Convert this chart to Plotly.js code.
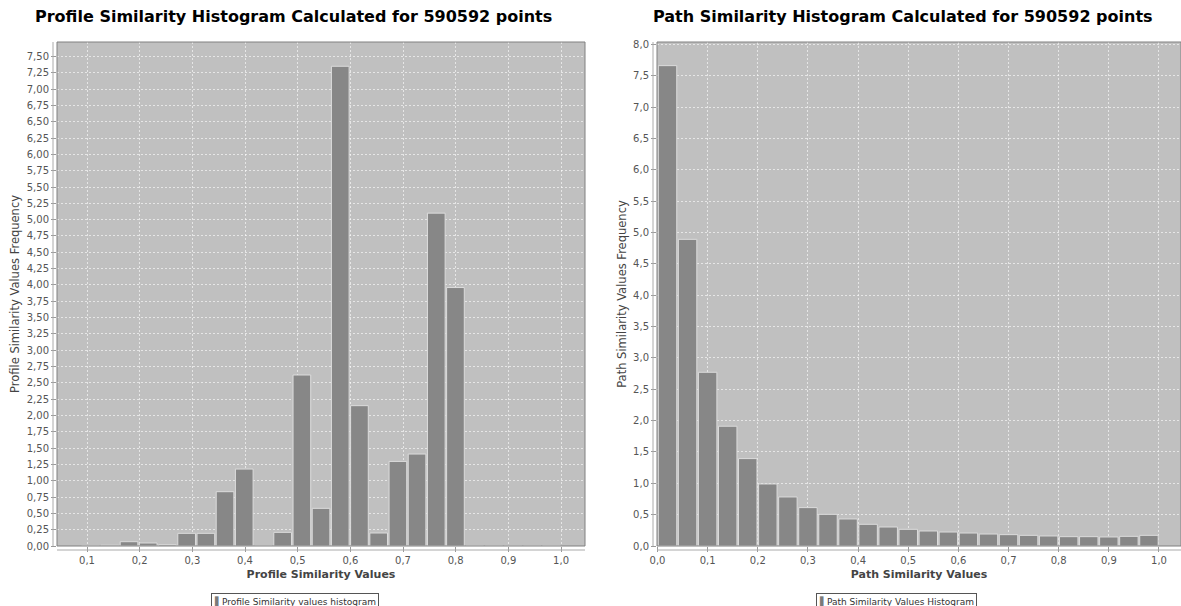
<!DOCTYPE html>
<html>
<head>
<meta charset="utf-8">
<script src="https://cdn.plot.ly/plotly-3.0.1.min.js"></script>
<style>
  html, body { margin: 0; padding: 0; background: #ffffff; }
  #chart { width: 1181px; height: 606px; }
</style>
</head>
<body>
<div id="chart"></div>
<script>
// ---- Data ----
const leftTitle = "Profile Similarity Histogram Calculated for 590592 points";
const leftXTitle = "Profile Similarity Values";
const leftYTitle = "Profile Similarity Values Frequency";
const leftLegend = "Profile Similarity values histogram";
const leftBinStart = [0.0886, 0.1251, 0.1615, 0.1980, 0.2344, 0.2709, 0.3074, 0.3438, 0.3803, 0.4167,
                      0.4532, 0.4897, 0.5261, 0.5626, 0.5990, 0.6355, 0.6720, 0.7084, 0.7449, 0.7813,
                      0.8178, 0.8543, 0.8907, 0.9272, 0.9636];
const leftBinWidth = 0.03646;
const leftFreq = [0.002, 0.012, 0.066, 0.046, 0.020, 0.194, 0.194, 0.832, 1.179, 0.000,
                  0.209, 2.620, 0.577, 7.350, 2.150, 0.199, 1.296, 1.409, 5.100, 3.960,
                  0.000, 0.000, 0.003, 0.000, 0.008];

const rightTitle = "Path Similarity Histogram Calculated for 590592 points";
const rightXTitle = "Path Similarity Values";
const rightYTitle = "Path Similarity Values Frequency";
const rightLegend = "Path Similarity Values Histogram";
const rightBinStart = [0.00, 0.04, 0.08, 0.12, 0.16, 0.20, 0.24, 0.28, 0.32, 0.36,
                       0.40, 0.44, 0.48, 0.52, 0.56, 0.60, 0.64, 0.68, 0.72, 0.76,
                       0.80, 0.84, 0.88, 0.92, 0.96];
const rightBinWidth = 0.04;
const rightFreq = [7.660, 4.890, 2.770, 1.910, 1.394, 0.989, 0.782, 0.612, 0.505, 0.431,
                   0.346, 0.303, 0.266, 0.239, 0.223, 0.207, 0.191, 0.181, 0.170, 0.160,
                   0.149, 0.149, 0.144, 0.154, 0.170];

// ---- Styling ----
const W = 1181, H = 606;
const barColor = '#878787';
const barEdge = '#dcdcdc';
const tickFont = { family: 'DejaVu Sans, sans-serif', size: 10, color: '#555555' };
const xTitleFont = { family: 'DejaVu Sans, sans-serif', size: 11, color: '#444444', weight: 'bold' };
const yTitleFont = { family: 'DejaVu Sans, sans-serif', size: 11.5, color: '#444444' };
const titleFont = { family: 'DejaVu Sans, sans-serif', size: 16, color: '#000000', weight: 'bold' };
const legendFont = { family: 'DejaVu Sans, sans-serif', size: 9, color: '#333333' };

function barTrace(starts, w, vals, xa, ya) {
  return {
    type: 'bar',
    x: starts,
    y: vals,
    width: starts.map(() => w * 0.92),
    offset: starts.map(() => w * 0.04),
    xaxis: xa, yaxis: ya,
    marker: { color: barColor, line: { color: barEdge, width: 1 } },
    showlegend: false,
    hoverinfo: 'x+y'
  };
}

const data = [
  barTrace(leftBinStart, leftBinWidth, leftFreq, 'x', 'y'),
  barTrace(rightBinStart, rightBinWidth, rightFreq, 'x2', 'y2')
];

const gridCommon = {
  showgrid: true,
  gridcolor: 'rgba(255,255,255,0.6)',
  griddash: '2px,2px',
  gridwidth: 1,
  zeroline: false,
  showline: false,
  ticks: 'outside',
  ticklen: 5,
  tickcolor: '#999999',
  tickfont: tickFont,
  fixedrange: true
};

const lDom = [57 / W, 585 / W];
const rDom = [657 / W, 1];

const layout = {
  width: W, height: H,
  margin: { l: 0, r: 0, t: 42, b: 60, pad: 0 },
  paper_bgcolor: '#ffffff',
  plot_bgcolor: '#c0c0c0',
  separators: ',.',
  bargap: 0,
  showlegend: false,
  xaxis: Object.assign({}, gridCommon, {
    domain: lDom, anchor: 'y',
    range: [0.0430, 1.0455], tick0: 0, dtick: 0.1, tickformat: '.1f',
    title: { text: leftXTitle, font: xTitleFont, standoff: 5 }
  }),
  yaxis: Object.assign({}, gridCommon, {
    domain: [0, 1], anchor: 'x',
    range: [0, 7.722], tick0: 0, dtick: 0.25, tickformat: '.2f',
    title: { text: leftYTitle, font: yTitleFont, standoff: 4 }
  }),
  xaxis2: Object.assign({}, gridCommon, {
    domain: rDom, anchor: 'y2',
    range: [-0.001, 1.0439], tick0: 0, dtick: 0.1, tickformat: '.1f',
    title: { text: rightXTitle, font: xTitleFont, standoff: 5 }
  }),
  yaxis2: Object.assign({}, gridCommon, {
    domain: [0, 1], anchor: 'x2',
    range: [0, 8.037], tick0: 0, dtick: 0.5, tickformat: '.1f',
    title: { text: rightYTitle, font: yTitleFont, standoff: 4 }
  }),
  shapes: [
    // plot outlines
    { type: 'rect', xref: 'x domain', yref: 'y domain', x0: 0, x1: 1, y0: 0, y1: 1,
      line: { color: '#808080', width: 1 }, layer: 'above' },
    { type: 'rect', xref: 'x2 domain', yref: 'y2 domain', x0: 0, x1: 1, y0: 0, y1: 1,
      line: { color: '#808080', width: 1 }, layer: 'above' },
    // offset axis lines (left chart)
    { type: 'line', xref: 'x domain', yref: 'y domain', x0: -4 / 528, x1: -4 / 528, y0: 0, y1: 1,
      line: { color: '#aaaaaa', width: 1 } },
    { type: 'line', xref: 'x domain', yref: 'y domain', x0: 0, x1: 1, y0: -4 / 504, y1: -4 / 504,
      line: { color: '#aaaaaa', width: 1 } },
    // offset axis lines (right chart)
    { type: 'line', xref: 'x2 domain', yref: 'y2 domain', x0: -4 / 524, x1: -4 / 524, y0: 0, y1: 1,
      line: { color: '#aaaaaa', width: 1 } },
    { type: 'line', xref: 'x2 domain', yref: 'y2 domain', x0: 0, x1: 1, y0: -4 / 504, y1: -4 / 504,
      line: { color: '#aaaaaa', width: 1 } }
  ],
  annotations: [
    { text: leftTitle, xref: 'paper', yref: 'paper', x: 293 / W, y: 1 + (42 - 17) / 504,
      xanchor: 'center', yanchor: 'middle', showarrow: false, font: titleFont },
    { text: rightTitle, xref: 'paper', yref: 'paper', x: 903 / W, y: 1 + (42 - 17) / 504,
      xanchor: 'center', yanchor: 'middle', showarrow: false, font: titleFont },
    { text: '<span style="color:#7a7a7a">▌</span>' + leftLegend, xref: 'paper', yref: 'paper',
      x: 295 / W, y: -(593 - 546) / 504, xanchor: 'center', yanchor: 'top', showarrow: false,
      font: legendFont, bordercolor: '#555555', borderwidth: 1, borderpad: 2, bgcolor: '#ffffff' },
    { text: '<span style="color:#7a7a7a">▌</span>' + rightLegend, xref: 'paper', yref: 'paper',
      x: 896 / W, y: -(593 - 546) / 504, xanchor: 'center', yanchor: 'top', showarrow: false,
      font: legendFont, bordercolor: '#555555', borderwidth: 1, borderpad: 2, bgcolor: '#ffffff' }
  ]
};

Plotly.newPlot('chart', data, layout, { displayModeBar: false, staticPlot: true });
</script>
</body>
</html>
